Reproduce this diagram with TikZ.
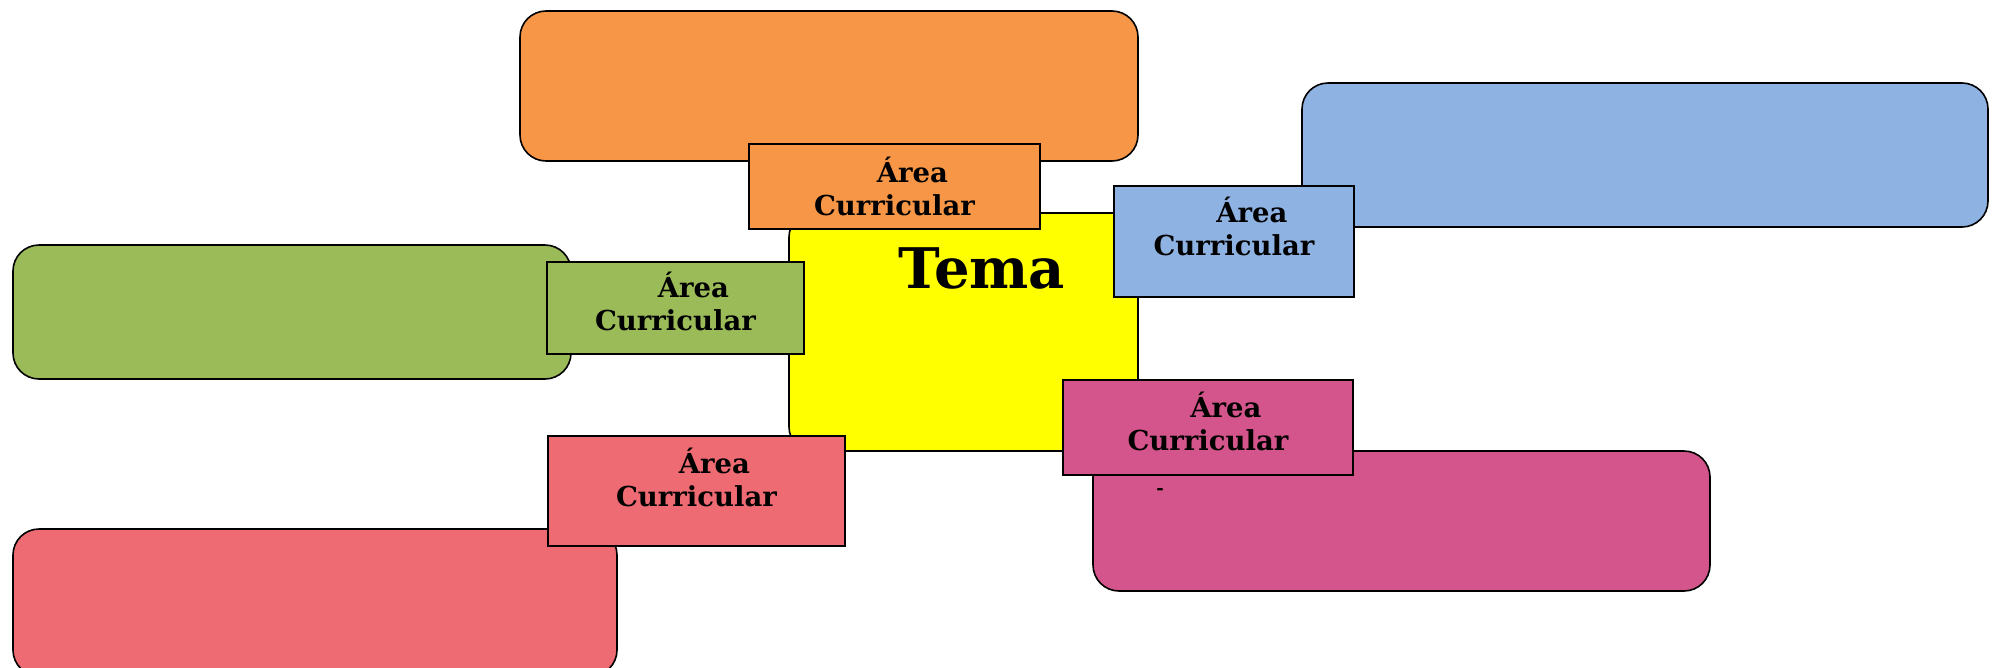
\documentclass[tikz,border=0pt]{standalone}
\usepackage{fontspec}
\setmainfont{DejaVu Serif}
\usetikzlibrary{calc}
\definecolor{cOrange}{RGB}{247,150,70}
\definecolor{cBlue}{RGB}{142,178,226}
\definecolor{cGreen}{RGB}{155,187,89}
\definecolor{cRed}{RGB}{238,107,115}
\definecolor{cMagenta}{RGB}{212,85,139}
\definecolor{cYellow}{RGB}{255,255,0}
\tikzset{
  bigbox/.style={draw=black, line width=1.6pt, rounded corners=26pt, inner sep=0pt},
  lblbox/.style={draw=black, line width=1.8pt, inner sep=0pt},
  lbltext/.style={font=\bfseries\fontsize{27.5}{33}\selectfont, align=center, inner sep=0pt, anchor=base},
}
\begin{document}
\begin{tikzpicture}[x=1pt, y=-1pt]
\useasboundingbox (0,0) rectangle (1999,667);

% outer content boxes
\draw[bigbox, fill=cOrange]  (520,11)  rectangle (1138,161);
\draw[bigbox, fill=cBlue]    (1302,83) rectangle (1988,227);
\draw[bigbox, fill=cGreen]   (13,245)  rectangle (571,379);
\draw[bigbox, fill=cRed]     (13,529)  rectangle (617,676);
\draw[bigbox, fill=cMagenta] (1093,451) rectangle (1710,591);
\node[font=\bfseries\fontsize{18}{20}\selectfont, anchor=base, inner sep=0pt] (dash) at (1160,494) {-};

% central topic
\draw[bigbox, rounded corners=24pt, fill=cYellow] (789,213) rectangle (1138,451);
\node[font=\bfseries\fontsize{56}{60}\selectfont, anchor=base, inner sep=0pt] (tema) at (982,288) {Tema};

% subject labels (text anchored on the baseline of its second line)
\node[lblbox, fill=cOrange, anchor=north west, minimum width=291pt, minimum height=85pt] (lo) at (748,143) {};
\node[lbltext] (to) at ($(lo.north)+(0,72)$) {\hspace*{36pt}Área\\Curricular};

\node[lblbox, fill=cBlue, anchor=north west, minimum width=240pt, minimum height=111pt] (lb) at (1113,185) {};
\node[lbltext] (tb) at ($(lb.north)+(0,70)$) {\hspace*{36pt}Área\\Curricular};

\node[lblbox, fill=cGreen, anchor=north west, minimum width=257pt, minimum height=92pt] (lg) at (546,261) {};
\node[lbltext] (tg) at ($(lg.north)+(0,69)$) {\hspace*{36pt}Área\\Curricular};

\node[lblbox, fill=cRed, anchor=north west, minimum width=297pt, minimum height=110pt] (lr) at (547,435) {};
\node[lbltext] (tr) at ($(lr.north)+(0,71)$) {\hspace*{36pt}Área\\Curricular};

\node[lblbox, fill=cMagenta, anchor=north west, minimum width=290pt, minimum height=95pt] (lm) at (1062,379) {};
\node[lbltext] (tm) at ($(lm.north)+(0,71)$) {\hspace*{36pt}Área\\Curricular};
\end{tikzpicture}
\end{document}
